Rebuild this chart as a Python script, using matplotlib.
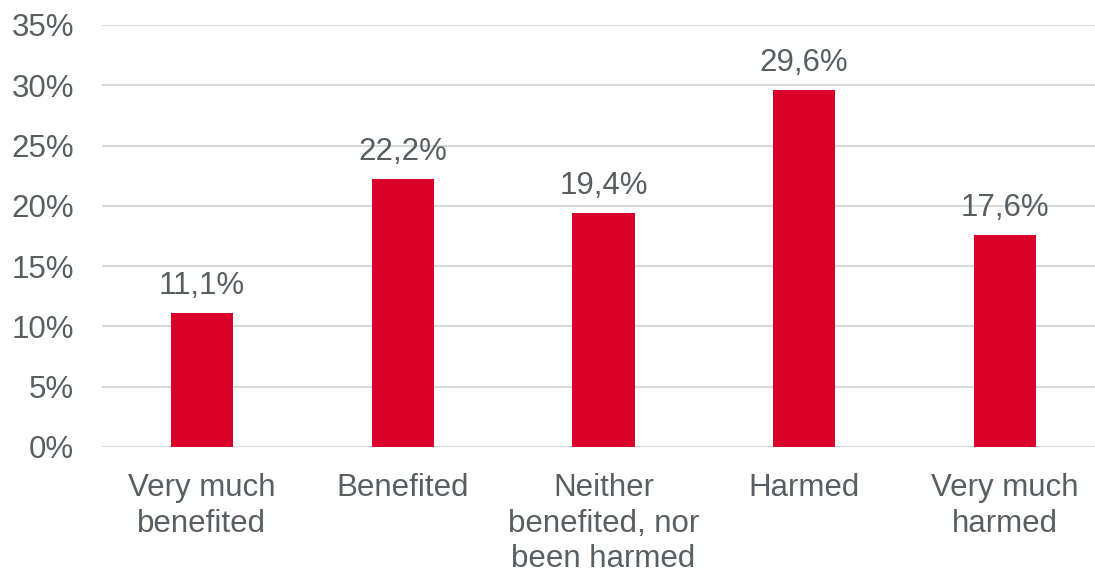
import numpy as np
import matplotlib.pyplot as plt

categories = ['Very much\nbenefited', 'Benefited', 'Neither\nbenefited, nor\nbeen harmed', 'Harmed', 'Very much\nharmed']
values = [11.1, 22.2, 19.4, 29.6, 17.6]
yticks = [0, 5, 10, 15, 20, 25, 30, 35]

text_color = '#595e63'
bar_color = '#d9002a'
fs = 22.5

plt.rcParams['font.family'] = ['Liberation Sans', 'DejaVu Sans']

fig = plt.figure(figsize=(10.95, 5.75), dpi=100)
ax = fig.add_axes([101.6 / 1095, 128 / 575, 1 - 101.6 / 1095, 422 / 575])

x = np.arange(len(categories))
bars = ax.bar(x, values, width=0.31, color=bar_color, zorder=3)

# value labels with comma decimal
for xi, v in zip(x, values):
    ax.text(xi, v + 1.0, f'{v:.1f}%'.replace('.', ','), ha='center', va='bottom',
            fontsize=fs, color=text_color)

ax.set_xlim(-0.5, 4.449)
ax.set_ylim(0, 35)
ax.set_yticks(yticks)
ax.set_yticklabels([f'{t}%' for t in yticks])
ax.set_xticks(x)
ax.set_xticklabels(categories, linespacing=1.23)

ax.tick_params(axis='y', length=0, pad=20, labelsize=fs, labelcolor=text_color)
ax.tick_params(axis='x', length=0, pad=19, labelsize=fs, labelcolor=text_color)

ax.grid(axis='y', color='#d9d9d9', linewidth=1.5, zorder=0)
for s in ax.spines.values():
    s.set_visible(False)

fig.savefig('out.png', dpi=100)
